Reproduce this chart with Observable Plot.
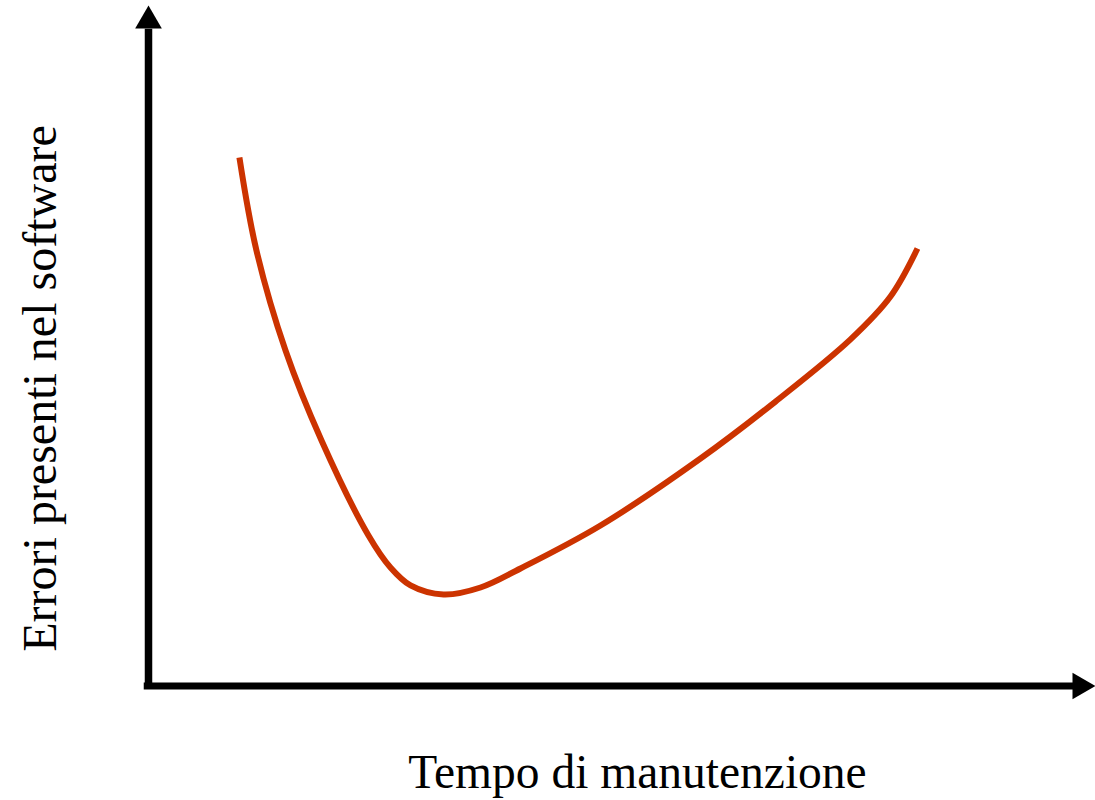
<!DOCTYPE html>
<html>
<head>
<meta charset="utf-8">
<script src="https://cdn.jsdelivr.net/npm/d3@7"></script>
<script src="https://cdn.jsdelivr.net/npm/@observablehq/plot@0.6"></script>
<style>
  html, body { margin: 0; padding: 0; background: #fff; }
  #chart svg { display: block; }
</style>
</head>
<body>
<div id="chart"></div>
<script>
// Curve: errors present in the software vs maintenance time (arbitrary units 0–100)
const tempo = [9.6, 11.4, 14.47, 18.27, 23.23, 25.55, 27.67, 31.15, 35.06, 39.28, 47.73, 58.29, 66.21, 74.13, 78.35, 81.2];
const errori = [77.65, 63.97, 49.26, 36.03, 22.06, 17.35, 14.71, 13.38, 14.41, 17.21, 23.53, 33.38, 41.76, 50.9, 57.2, 64.26];

const xLabel = "Tempo di manutenzione";
const yLabel = "Errori presenti nel software";

const curve = tempo.map((t, i) => ({t, e: errori[i]}));
const axisTip = 100;

const chart = Plot.plot({
  width: 1095,
  height: 800,
  marginLeft: 148,
  marginRight: 0,
  marginTop: 5,
  marginBottom: 115,
  x: {domain: [0, axisTip], axis: null},
  y: {domain: [0, axisTip], axis: null},
  style: {background: "#fff"},
  marks: [
    // axis lines
    Plot.ruleX([0], {y1: -0.6, y2: 96.5, stroke: "#000", strokeWidth: 7.5}),
    Plot.ruleY([0], {x1: -0.45, x2: 98.2, dy: 0.5, stroke: "#000", strokeWidth: 7}),
    // arrow heads
    Plot.dot([{x: 0, y: axisTip}], {x: "x", y: "y", symbol: "triangle", r: 9.9, fill: "#000", stroke: null, dy: 15.3}),
    Plot.dot([{x: axisTip, y: 0}], {x: "x", y: "y", symbol: "triangle", r: 9.9, rotate: 90, fill: "#000", stroke: null, dx: -15.3, dy: 0.5}),
    // curve
    Plot.line(curve, {x: "t", y: "e", curve: "catmull-rom", stroke: "#CC3300", strokeWidth: 6, strokeLinecap: "butt"}),
    // labels
    Plot.text([xLabel], {frameAnchor: "bottom", text: d => d, dx: 15.5, dy: 102, lineAnchor: "bottom",
      fontSize: 47.5, fontFamily: "'Liberation Serif', 'Times New Roman', serif", fill: "#000"}),
    Plot.text([yLabel], {frameAnchor: "left", text: d => d, rotate: -90, dx: -93, dy: 43, lineAnchor: "bottom",
      textAnchor: "middle", fontSize: 48, fontFamily: "'Liberation Serif', 'Times New Roman', serif", fill: "#000"})
  ]
});

document.getElementById("chart").appendChild(chart);
</script>
</body>
</html>
